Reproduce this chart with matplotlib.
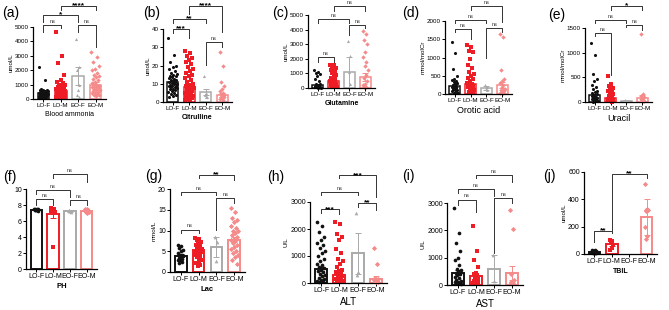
import numpy as np
import matplotlib.pyplot as plt

plt.rcParams['font.family'] = ['Liberation Sans', 'DejaVu Sans']

# --- datos ---
groups = ['LO-F', 'LO-M', 'EO-F', 'EO-M']
colors = ['#111111', '#ee1c24', '#a9a9a9', '#f58a8a']
markers = ['o', 's', '^', 'D']

# (a) Blood ammonia
a_pts = [
    [2250, 1300, 700, 650, 620, 600, 580, 560, 540, 520, 500, 480, 460, 450, 440, 420, 400, 380,
     360, 350, 340, 320, 300, 280, 260, 250, 240, 220, 200, 180, 160, 150, 130, 110, 100, 80],
    [4650, 3000, 2500, 1700, 1300, 1200, 1100, 1000, 950, 900, 850, 800, 750, 700, 650, 600, 550,
     500, 480, 450, 420, 400, 380, 350, 320, 300, 280, 260, 240, 220, 200, 180, 160, 140, 120, 100, 80, 60],
    [4200, 2200, 2000, 1000, 600, 300, 150],
    [3250, 2900, 2600, 2300, 2100, 2000, 1800, 1700, 1600, 1500, 1400, 1300, 1200, 1100, 1000, 950,
     900, 850, 800, 750, 700, 650, 600, 550, 500, 450, 400, 350, 300, 250, 200],
]
a_mean = [450, 550, 1600, 1000]
a_err = [60, 120, 600, 150]

# (b) Citrulline
b_pts = [
    [35, 26, 22, 20, 19, 18, 17, 16, 15.5, 15, 14.5, 14, 13.5, 13, 12.5, 12, 12, 11.5, 11, 11, 10.5,
     10, 10, 9.5, 9, 9, 8.5, 8, 8, 7.5, 7, 7, 6.5, 6, 5.5, 5, 4.5, 4, 3.5, 3],
    [28, 27, 25, 24, 23, 22, 21, 19, 18, 17, 16, 15, 14, 13, 12, 11, 10, 9.5, 9, 8.5, 8, 7.5, 7,
     6.5, 6, 5.5, 5, 4.5, 4, 3.5, 3, 2.5, 2, 1.5, 1, 0.5],
    [14.5, 5, 4, 3, 2.5],
    [27.5, 20, 11, 9, 7, 6, 5, 4.5, 4, 3.5, 3, 2.5, 2, 1.5, 1],
]
b_mean = [11, 8, 5.5, 4]
b_err = [0.6, 0.7, 1.8, 1.2]

# (c) Glutamine
c_pts = [
    [1250, 1100, 1000, 950, 800, 600, 450, 300, 250, 200, 180, 150, 130, 110, 100, 90, 80, 70, 60, 50, 40, 30, 20],
    [1600, 1550, 1500, 1400, 1300, 1200, 1100, 1000, 900, 800, 700, 600, 500, 450, 400, 350, 300, 250,
     200, 150, 100, 80, 60, 40],
    [3250, 2200, 1100, 300, 100],
    [3900, 3700, 3300, 3000, 2500, 2100, 1800, 1500, 1200, 900, 700, 500, 300, 200, 100, 50],
]
c_mean = [200, 500, 1100, 750]
c_err = [40, 80, 1000, 250]

# (d) Orotic acid
d_pts = [
    [1430, 1130, 680, 480, 420, 380, 350, 320, 300, 280, 250, 220, 200, 180, 160, 140, 120, 100, 80, 60, 40, 20],
    [1350, 1300, 1170, 1150, 950, 800, 700, 600, 550, 500, 450, 400, 350, 300, 280, 250, 220, 200,
     180, 150, 120, 100, 80, 60, 40, 20],
    [250, 200, 150, 100],
    [1650, 1550, 650, 420, 350, 300, 250, 200, 150, 120, 100, 80, 60, 40, 20],
]
d_mean = [230, 270, 170, 250]
d_err = [40, 40, 50, 80]

# (e) Uracil
e_pts = [
    [1200, 950, 560, 470, 420, 350, 300, 260, 230, 200, 180, 160, 140, 120, 100, 90, 80, 70, 60, 50, 40, 30, 20, 10],
    [520, 360, 320, 280, 250, 220, 200, 180, 160, 140, 120, 100, 80, 70, 60, 50, 40, 30, 20, 10],
    [40, 30, 25, 20],
    [1380, 160, 120, 100, 80, 60, 50, 40, 30, 20],
]
e_mean = [140, 90, 30, 80]
e_err = [30, 15, 5, 60]

# (f) PH
f_pts = [
    [7.55, 7.5, 7.48, 7.45, 7.42, 7.4, 7.38, 7.35, 7.3],
    [7.6, 7.5, 7.45, 7.4, 7.35, 7.3, 7.25, 7.2, 7.1, 2.8],
    [7.4, 7.3, 7.2, 7.1],
    [7.5, 7.45, 7.4, 7.35, 7.3, 7.25, 7.2, 7.15, 7.1, 7.05],
]
f_mean = [7.42, 6.9, 7.25, 7.3]
f_err = [0.05, 0.5, 0.1, 0.05]

# (g) Lac
g_pts = [
    [6.5, 6.2, 5.8, 5.3, 5.0, 4.5, 4.2, 4.0, 3.8, 3.6, 3.4, 3.2, 3.0, 2.8, 2.5, 2.2],
    [8.2, 8.0, 7.6, 7.3, 7.0, 6.6, 6.2, 5.8, 5.5, 5.2, 5.0, 4.8, 4.5, 4.2, 3.8, 3.5, 3.0, 2.6, 2.2, 1.8, 1.5],
    [8.4, 7.3, 2.7],
    [15.5, 14.5, 13, 12.5, 12, 11, 10.5, 10, 10, 9.5, 9, 8.5, 8, 7.8, 7.5, 7, 6.5, 6, 5.5, 5, 4.5, 4, 3.5, 3, 2],
]
g_mean = [3.9, 5.3, 6.0, 7.8]
g_err = [0.4, 0.45, 2.5, 0.6]

# (h) ALT
h_pts = [
    [2250, 2100, 1900, 1700, 1600, 1500, 1400, 1300, 1200, 1100, 1000, 900, 800, 700, 650, 600, 550,
     500, 450, 400, 350, 300, 250, 200, 150, 100, 80, 60, 40],
    [2250, 2200, 1800, 1700, 1600, 1250, 1100, 900, 800, 700, 600, 500, 450, 400, 350, 300, 250, 200,
     150, 120, 100, 80, 60, 40, 20],
    [2600, 400, 300],
    [1280, 700, 200, 150, 120, 100, 80, 60, 40, 20],
]
h_mean = [520, 300, 1100, 150]
h_err = [80, 70, 750, 100]

# (i) AST
i_pts = [
    [2800, 1900, 1550, 1250, 1000, 900, 750, 600, 550, 500, 450, 400, 350, 300, 250, 200, 150, 120, 100, 80, 60, 40],
    [2150, 1250, 900, 650, 450, 400, 350, 300, 250, 200, 150, 120, 100, 80, 60, 40],
    [1100, 150],
    [2750, 2050, 400, 200, 150, 100, 80, 60],
]
i_mean = [450, 320, 600, 450]
i_err = [100, 60, 500, 250]

# (j) TBIL
j_pts = [
    [30, 28, 25, 22, 20, 18, 16, 14, 12, 10, 8, 6, 5],
    [100, 97, 92, 65, 45, 32],
    [],
    [510, 330, 320, 320, 315, 200, 130, 110],
]
j_mean = [15, 70, np.nan, 270]
j_err = [2, 12, np.nan, 130]

# paneles: etiqueta, puntos, medias, errores, ylim, paso, ylabel, xlabel
paneles = [
    ('(a)', a_pts, a_mean, a_err, 5000, 1000, 'umol/L', 'Blood ammonia'),
    ('(b)', b_pts, b_mean, b_err, 40, 10, 'umol/L', 'Citrulline'),
    ('(c)', c_pts, c_mean, c_err, 5000, 1000, 'umol/L', 'Glutamine'),
    ('(d)', d_pts, d_mean, d_err, 2000, 500, 'mmol/molCr', 'Orotic acid'),
    ('(e)', e_pts, e_mean, e_err, 1500, 500, 'mmol/molCr', 'Uracil'),
    ('(f)', f_pts, f_mean, f_err, 10, 2, '', 'PH'),
    ('(g)', g_pts, g_mean, g_err, 20, 5, 'mmol/L', 'Lac'),
    ('(h)', h_pts, h_mean, h_err, 3000, 1000, 'U/L', 'ALT'),
    ('(i)', i_pts, i_mean, i_err, 3000, 1000, 'U/L', 'AST'),
    ('(j)', j_pts, j_mean, j_err, 600, 200, 'umol/L', 'TBIL'),
]

# posicion de cada eje en pixeles: x izq, x der, y arriba, y abajo
rects_px = [
    (33, 106, 27, 99), (163, 232, 29, 102), (308, 375, 15, 88), (445, 512, 21, 94), (585, 652, 28, 102),
    (26, 97, 189, 269), (170, 245, 189, 272), (310, 387, 202, 283), (447, 523, 203, 285), (584, 657, 172, 254),
]
label_px = [(2, 13), (143, 13), (272, 13), (402, 13), (548, 15),
            (3, 177), (145, 176), (267, 177), (402, 176), (543, 176)]
xlabel_fs = [5, 5, 5, 6.5, 6.5, 5.5, 5.5, 7, 7, 5]
tick_fs = [4.5, 4.5, 4.5, 4.5, 4.5, 5, 5, 5, 5, 5]

# comparaciones (g1, g2, y, pata1, pata2, texto) en fraccion del eje
brackets = [
    [(0, 1, 1.03, 0.93, 0.99, 'ns'), (2, 3, 1.03, 0.93, 0.72, 'ns'), (0, 2, 1.16, 1.07, 1.07, '*'), (1, 3, 1.29, 1.24, 1.24, '****')],
    [(0, 1, 1.00, 0.95, 0.88, '***'), (0, 2, 1.14, 1.08, 1.08, '**'), (1, 3, 1.32, 1.21, 0.96, '****'), (2, 3, 0.82, 0.51, 0.75, 'ns')],
    [(0, 1, 0.43, 0.36, 0.36, 'ns'), (0, 2, 0.95, 0.89, 0.89, 'ns'), (2, 3, 0.86, 0.73, 0.82, 'ns'), (1, 3, 1.12, 1.06, 1.06, 'ns')],
    [(0, 1, 0.89, 0.85, 0.75, 'ns'), (0, 2, 1.01, 0.97, 0.97, 'ns'), (2, 3, 0.90, 0.49, 0.85, 'ns'), (1, 3, 1.21, 1.15, 0.99, 'ns')],
    [(0, 1, 0.93, 0.89, 0.36, 'ns'), (0, 2, 1.11, 1.07, 1.07, 'ns'), (2, 3, 1.04, 1.01, 0.97, 'ns'), (1, 3, 1.30, 1.24, 1.24, '*')],
    [(0, 1, 0.875, 0.8, 0.8, 'ns'), (0, 2, 0.99, 0.94, 0.9, 'ns'), (2, 3, 0.86, 0.8, 0.8, 'ns'), (1, 3, 1.19, 1.14, 1.09, 'ns')],
    [(0, 1, 0.51, 0.47, 0.47, 'ns'), (0, 2, 0.96, 0.93, 0.93, 'ns'), (2, 3, 0.89, 0.51, 0.83, 'ns'), (1, 3, 1.17, 1.13, 1.11, '**')],
    [(0, 1, 0.91, 0.86, 0.85, '***'), (0, 2, 1.12, 1.09, 1.09, 'ns'), (2, 3, 0.99, 0.94, 0.9, '**'), (1, 3, 1.33, 1.30, 1.06, '***')],
    [(0, 1, 1.04, 0.98, 0.89, 'ns'), (0, 2, 1.17, 1.12, 1.09, 'ns'), (2, 3, 1.06, 0.39, 1.0, 'ns'), (1, 3, 1.34, 1.30, 1.26, 'ns')],
    [(0, 1, 0.28, 0.15, 0.26, '**'), (1, 3, 0.98, 0.29, 0.93, '**')],
]

W, H = 669, 310
fig = plt.figure(figsize=(W / 100, H / 100), dpi=100)

for k, (lab, pts, mean, err, ymax, paso, ylab, xlab) in enumerate(paneles):
    x0, x1, yt, yb = rects_px[k]
    ax = fig.add_axes([x0 / W, 1 - yb / H, (x1 - x0) / W, (yb - yt) / H])
    fila2 = k >= 5
    for g in range(4):
        c = colors[g]
        if not np.isnan(mean[g]):
            ax.bar(g, mean[g], width=0.66, facecolor='white', edgecolor=c,
                   linewidth=1.4 if fila2 else 1.1, zorder=1)
        vals = np.array(pts[g], dtype=float)
        n = len(vals)
        if n:
            spread = min(0.55, 0.12 + n * 0.012)
            off = ((np.arange(n) * 0.618034) % 1 - 0.5) * spread
            ms = 7 if fila2 else 5
            ax.scatter(g + off, vals, s=ms, marker=markers[g], color=c, linewidths=0, zorder=2, clip_on=False)
        if not np.isnan(mean[g]):
            ax.errorbar(g, mean[g], yerr=err[g], color=c, lw=0.7, capsize=2, capthick=0.7, zorder=3)

    ax.set_xlim(-0.6, 3.6)
    ax.set_ylim(0, ymax)
    ax.set_yticks(np.arange(0, ymax + paso / 2, paso))
    ax.set_xticks(range(4))
    ax.set_xticklabels(groups)
    ax.tick_params(axis='both', labelsize=tick_fs[k], length=2, width=0.7, pad=1)
    for s in ['top', 'right']:
        ax.spines[s].set_visible(False)
    for s in ['left', 'bottom']:
        ax.spines[s].set_linewidth(0.9)
    ax.set_ylabel(ylab, fontsize=4.5, labelpad=1)
    ax.set_xlabel(xlab, fontsize=xlabel_fs[k], labelpad=2, fontweight='bold' if k in (1, 2, 5, 6, 9) else 'normal')

    tr = ax.get_xaxis_transform()
    for g1, g2, y, p1, p2, txt in brackets[k]:
        ax.plot([g1, g1, g2, g2], [p1, y, y, p2], transform=tr, color='#333333', lw=0.7, clip_on=False)
        if txt == 'ns':
            ax.text((g1 + g2) / 2, y + 0.015, txt, transform=tr, ha='center', va='bottom', fontsize=4, color='#333333')
        else:
            ax.text((g1 + g2) / 2, y - 0.045, txt, transform=tr, ha='center', va='bottom', fontsize=6, fontweight='bold')

    lx, ly = label_px[k]
    fig.text(lx / W, 1 - ly / H, lab, fontsize=10, ha='left', va='center')

fig.savefig('out.png', dpi=100)
